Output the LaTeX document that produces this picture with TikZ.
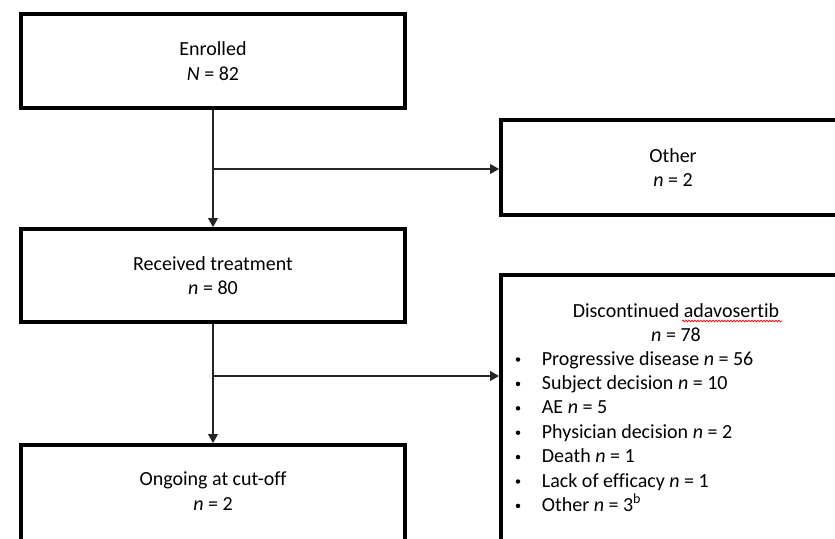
\documentclass[tikz,border=0pt]{standalone}
\usepackage{fontspec}
\setmainfont{Carlito}[Ligatures=NoCommon]
\usetikzlibrary{arrows.meta,decorations.pathmorphing}
\begin{document}
\begin{tikzpicture}[x=1pt,y=-1pt,
  box/.style={draw=black,line width=4pt,rectangle,inner sep=0pt,align=center,
    font=\fontsize{20}{24.4}\selectfont},
  txt/.style={inner sep=0pt,font=\fontsize{20}{24.4}\selectfont,text=black},
  dot/.style={circle,fill=black,inner sep=0pt,minimum size=4.5pt},
  flow/.style={draw=black!85,line width=1.3pt,-{Triangle[width=10pt,length=9pt]}},
  link/.style={draw=black!85,line width=1.3pt}]
\useasboundingbox (0,0) rectangle (835,538);
\clip (0,0) rectangle (835,538);
\fill[white] (0,0) rectangle (835,538);

% left column boxes
\node[box,minimum width=384pt,minimum height=94pt] (enr) at (213,61)
  {Enrolled\\\textit{N} = 82};
\node[box,minimum width=384pt,minimum height=93pt] (rec) at (213,275.5)
  {Received treatment\\\textit{n} = 80};
\node[box,minimum width=384pt,minimum height=100pt] (ong) at (213,495) {};
\node[txt,align=center] (ongt) at (213,491) {Ongoing at cut-off\\\textit{n} = 2};

% right column boxes
\node[box,minimum width=344pt,minimum height=95pt] (oth) at (673,167.5)
  {Other\\\textit{n} = 2};
\node[box,minimum width=344pt,minimum height=300pt] (dis) at (673,425) {};

% discontinued text
\node[txt,anchor=base] (dtitle) at (676,317) {Discontinued adavosertib};
\node[txt,anchor=base] (dn) at (676,341) {\textit{n} = 78};
\draw[red,line width=0.7pt,decorate,decoration={snake,amplitude=0.9pt,segment length=3pt}]
  (682,321) -- (782,321);

\foreach \i/\t in {0/{Progressive disease \textit{n} = 56},
                   1/{Subject decision \textit{n} = 10},
                   2/{AE \textit{n} = 5},
                   3/{Physician decision \textit{n} = 2},
                   4/{Death \textit{n} = 1},
                   5/{Lack of efficacy \textit{n} = 1},
                   6/{Other \textit{n} = 3\textsuperscript{b}}}{
  \node[dot] (bul\i) at (518,359.5+24.4*\i) {};
  \node[txt,anchor=base west] (item\i) at (541.7,365+24.4*\i) {\t};
}

% connectors
\coordinate (b1) at (213,169);
\coordinate (b2) at (213,376);
\draw[flow] (enr) -- (rec);
\draw[flow] (b1) -- (b1 -| oth.west);
\draw[flow] (rec) -- (ong);
\draw[flow] (b2) -- (b2 -| dis.west);
\end{tikzpicture}
\end{document}
